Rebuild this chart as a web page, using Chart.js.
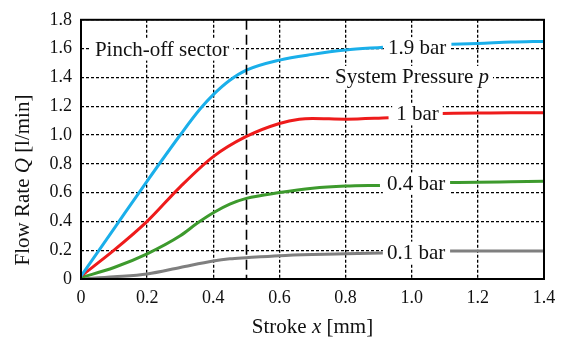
<!DOCTYPE html>
<html>
<head>
<meta charset="utf-8">
<script src="https://cdn.jsdelivr.net/npm/chart.js@4"></script>
<style>
  html, body { margin: 0; padding: 0; background: #fff; }
  #wrap { width: 565px; height: 340px; }
  .fontwarm { position: absolute; left: -9999px; top: 0; font-family: "Liberation Serif"; font-size: 20px; }
</style>
</head>
<body>
<div class="fontwarm">0.2 Flow <i>Q p x</i></div>
<div id="wrap"><canvas id="c" width="565" height="340"></canvas></div>
<script>
// ---- data ----
const xTickLabels = ['0', '0.2', '0.4', '0.6', '0.8', '1.0', '1.2', '1.4'];
const yTickLabels = ['0', '0.2', '0.4', '0.6', '0.8', '1.0', '1.2', '1.4', '1.6', '1.8'];
const pinchOffX = 0.5;

// null = gap where the pressure label sits
const stroke19 = [0, 0.1, 0.2, 0.3, 0.36, 0.4, 0.45, 0.5, 0.6, 0.7, 0.8, 0.913, 1.0, 1.12, 1.2, 1.3, 1.4];
const flow19   = [0.02, 0.35, 0.68, 1.00, 1.18, 1.28, 1.38, 1.45, 1.52, 1.56, 1.59, 1.61, null, 1.63, 1.635, 1.645, 1.65];

const stroke10 = [0, 0.1, 0.2, 0.3, 0.4, 0.5, 0.6, 0.66, 0.7, 0.8, 0.93, 1.0, 1.09, 1.2, 1.3, 1.4];
const flow10   = [0.02, 0.20, 0.40, 0.64, 0.85, 0.99, 1.08, 1.11, 1.115, 1.11, 1.12, null, 1.15, 1.152, 1.154, 1.155];

const stroke04 = [0, 0.1, 0.2, 0.3, 0.35, 0.4, 0.45, 0.5, 0.6, 0.7, 0.8, 0.904, 1.0, 1.116, 1.2, 1.3, 1.4];
const flow04   = [0.01, 0.08, 0.175, 0.30, 0.385, 0.46, 0.52, 0.56, 0.60, 0.63, 0.645, 0.65, null, 0.67, 0.672, 0.675, 0.678];

const stroke01 = [0, 0.1, 0.2, 0.3, 0.4, 0.45, 0.5, 0.6, 0.7, 0.8, 0.913, 1.0, 1.116, 1.2, 1.3, 1.4];
const flow01   = [0.0, 0.015, 0.035, 0.08, 0.125, 0.14, 0.148, 0.162, 0.17, 0.175, 0.18, null, 0.195, 0.195, 0.195, 0.195];

const seriesNames = ['1.9 bar', '1 bar', '0.4 bar', '0.1 bar'];
const seriesColors = ['#1AAFEA', '#EE1B1B', '#3D9A2D', '#7F7F7F'];

// ---- annotations (text anchored in data units) ----
const annotations = [
  { runs: [['Pinch-off sector', false]], x: 0.042, y: 1.60 },
  { runs: [['1.9 bar', false]], x: 0.928, y: 1.61 },
  { runs: [['System Pressure ', false], ['p', true]], x: 0.768, y: 1.41 },
  { runs: [['1 bar', false]], x: 0.953, y: 1.15 },
  { runs: [['0.4 bar', false]], x: 0.925, y: 0.67 },
  { runs: [['0.1 bar', false]], x: 0.925, y: 0.19 }
];

const FONT = '"Liberation Serif", "Times New Roman", serif';
Chart.defaults.font.family = FONT;
Chart.defaults.color = '#000';

function toPoints(xs, ys) {
  return xs.map((v, i) => ({ x: v, y: ys[i] }));
}

const datasets = [
  [stroke19, flow19], [stroke10, flow10], [stroke04, flow04], [stroke01, flow01]
].map((s, i) => ({
  label: seriesNames[i],
  data: toPoints(s[0], s[1]),
  borderColor: seriesColors[i],
  backgroundColor: seriesColors[i],
  borderWidth: 3,
  pointRadius: 0,
  fill: false,
  spanGaps: false,
  cubicInterpolationMode: 'monotone'
}));

function runsWidth(ctx, runs, size) {
  let w = 0;
  for (const [t, it] of runs) {
    ctx.font = (it ? 'italic ' : '') + size + 'px ' + FONT;
    w += ctx.measureText(t).width;
  }
  return w;
}
function drawRuns(ctx, runs, size, x, y) {
  let cx = x;
  for (const [t, it] of runs) {
    ctx.font = (it ? 'italic ' : '') + size + 'px ' + FONT;
    ctx.fillText(t, cx, y);
    cx += ctx.measureText(t).width;
  }
}

const decor = {
  id: 'decor',
  afterDatasetsDraw(chart) {
    const { ctx, chartArea: a, scales: { x, y } } = chart;
    ctx.save();
    // pinch-off boundary
    ctx.strokeStyle = '#000';
    ctx.lineWidth = 1.6;
    ctx.setLineDash([10, 5]);
    const px = Math.round(x.getPixelForValue(pinchOffX)) + 0.5;
    ctx.beginPath(); ctx.moveTo(px, a.top); ctx.lineTo(px, a.bottom); ctx.stroke();
    ctx.setLineDash([]);

    // labels with white boxes
    const size = 21;
    ctx.textBaseline = 'alphabetic';
    ctx.textAlign = 'left';
    for (const an of annotations) {
      const lx = x.getPixelForValue(an.x);
      const base = y.getPixelForValue(an.y) + 7;
      const w = runsWidth(ctx, an.runs, size);
      ctx.fillStyle = '#fff';
      ctx.fillRect(lx - 4, base - 17, w + 8, 22);
      ctx.fillStyle = '#111';
      drawRuns(ctx, an.runs, size, lx, base);
    }

    // frame
    ctx.strokeStyle = '#000';
    ctx.lineWidth = 2;
    ctx.strokeRect(a.left, a.top, a.right - a.left, a.bottom - a.top);
    ctx.restore();
  },
  afterDraw(chart) {
    const { ctx, chartArea: a } = chart;
    ctx.save();
    ctx.fillStyle = '#111';
    ctx.textBaseline = 'alphabetic';
    const size = 21;
    // x title
    const xr = [['Stroke ', false], ['x', true], [' [mm]', false]];
    const xw = runsWidth(ctx, xr, size);
    drawRuns(ctx, xr, size, (a.left + a.right) / 2 - xw / 2, 333);
    // y title
    const yr = [['Flow Rate ', false], ['Q', true], [' [l/min]', false]];
    const yw = runsWidth(ctx, yr, size);
    ctx.translate(29, 180);
    ctx.rotate(-Math.PI / 2);
    drawRuns(ctx, yr, size, -yw / 2, 0);
    ctx.restore();
  }
};

const chart = new Chart(document.getElementById('c'), {
  type: 'line',
  data: { datasets },
  options: {
    responsive: false,
    animation: false,
    devicePixelRatio: 1,
    layout: { padding: { top: 11, right: 21, left: 0, bottom: 0 } },
    plugins: { legend: { display: false }, tooltip: { enabled: false } },
    scales: {
      x: {
        type: 'linear',
        min: 0, max: 1.4,
        afterFit(s) { s.height = 61; },
        ticks: {
          stepSize: 0.2,
          padding: 8,
          color: '#111',
          font: { family: FONT, size: 18 },
          maxRotation: 0,
          callback: (v, i) => xTickLabels[i]
        },
        grid: { color: '#000', lineWidth: 1.3, drawTicks: false },
        border: { display: false, dash: [3, 2] }
      },
      y: {
        type: 'linear',
        min: 0, max: 1.8,
        afterFit(s) { s.width = 81; },
        ticks: {
          stepSize: 0.2,
          padding: 9,
          color: '#111',
          font: { family: FONT, size: 18 },
          callback: (v, i) => yTickLabels[i]
        },
        grid: { color: '#000', lineWidth: 1.3, drawTicks: false },
        border: { display: false, dash: [3, 2] }
      }
    }
  },
  plugins: [decor]
});

if (document.fonts && document.fonts.load) {
  Promise.all([
    document.fonts.load('18px "Liberation Serif"'),
    document.fonts.load('italic 21px "Liberation Serif"')
  ]).then(() => chart.update()).catch(() => {});
  document.fonts.ready.then(() => chart.update());
}
</script>
</body>
</html>
